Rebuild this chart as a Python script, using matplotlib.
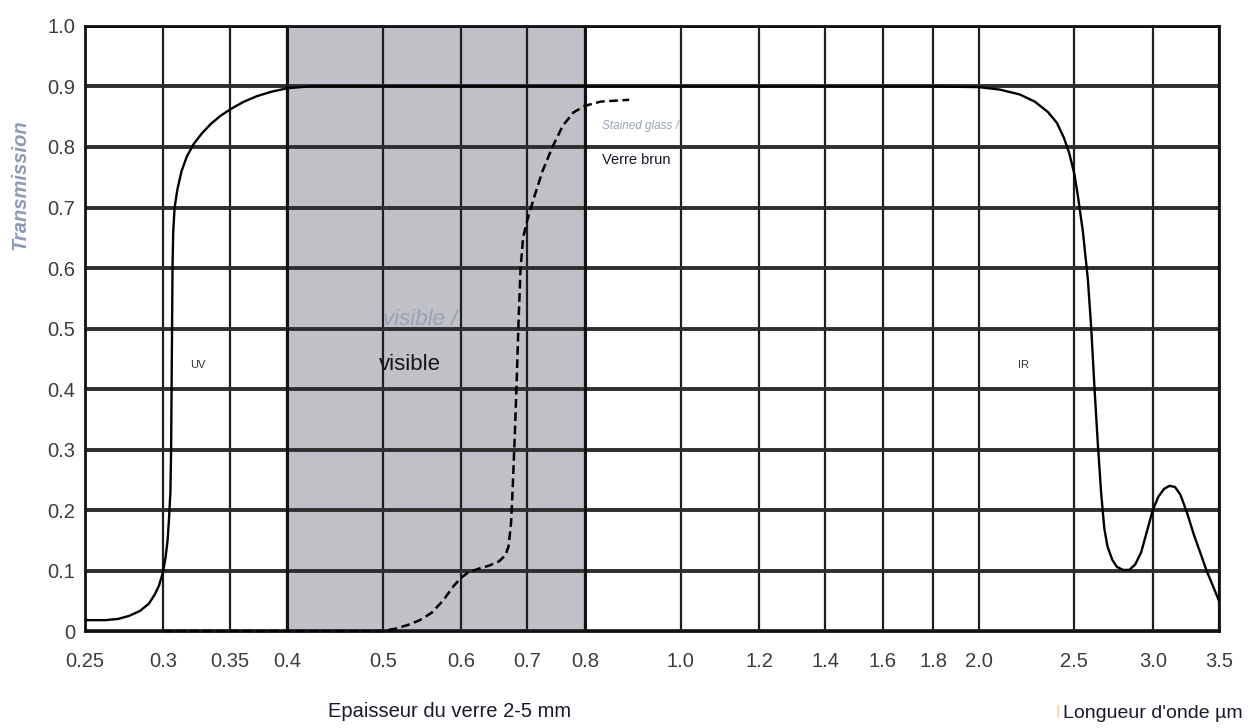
import matplotlib
matplotlib.use("Agg")
import matplotlib.pyplot as plt
from matplotlib.ticker import FixedLocator, FixedFormatter, NullLocator

# Wavelength ticks (µm) and transmission ticks
x_ticks = [0.25, 0.3, 0.35, 0.4, 0.5, 0.6, 0.7, 0.8, 1.0, 1.2, 1.4, 1.6, 1.8, 2.0, 2.5, 3.0, 3.5]
x_tick_labels = ["0.25", "0.3", "0.35", "0.4", "0.5", "0.6", "0.7", "0.8", "1.0", "1.2",
                 "1.4", "1.6", "1.8", "2.0", "2.5", "3.0", "3.5"]
y_ticks = [0, 0.1, 0.2, 0.3, 0.4, 0.5, 0.6, 0.7, 0.8, 0.9, 1.0]
y_tick_labels = ["0", "0.1", "0.2", "0.3", "0.4", "0.5", "0.6", "0.7", "0.8", "0.9", "1.0"]

# Clear glass, 2-5 mm
clear_wl = [0.25, 0.262, 0.27, 0.277, 0.284, 0.29, 0.294, 0.297, 0.2995, 0.3015, 0.303,
            0.304, 0.305, 0.3055, 0.306, 0.3065, 0.307, 0.308, 0.310, 0.313, 0.317, 0.322,
            0.328, 0.335, 0.343, 0.352, 0.362, 0.373, 0.385, 0.40, 0.42, 1.0, 1.8, 2.0,
            2.1, 2.2, 2.28, 2.35, 2.40, 2.44, 2.47, 2.50, 2.52, 2.55, 2.58, 2.60, 2.62, 2.64,
            2.66, 2.68, 2.70, 2.73, 2.76, 2.80, 2.84, 2.88, 2.92, 2.96, 3.00, 3.04, 3.08,
            3.12, 3.16, 3.20, 3.25, 3.30, 3.35, 3.40, 3.45, 3.5]
clear_tr = [0.018, 0.018, 0.020, 0.025, 0.033, 0.045, 0.060, 0.075, 0.095, 0.120, 0.150,
            0.185, 0.230, 0.300, 0.450, 0.600, 0.660, 0.700, 0.730, 0.760, 0.785, 0.805,
            0.822, 0.838, 0.852, 0.864, 0.875, 0.884, 0.891, 0.897, 0.900, 0.900, 0.900, 0.899,
            0.895, 0.887, 0.875, 0.858, 0.840, 0.815, 0.790, 0.755, 0.720, 0.660, 0.580,
            0.500, 0.400, 0.310, 0.230, 0.170, 0.140, 0.118, 0.106, 0.101, 0.101, 0.110,
            0.130, 0.165, 0.200, 0.222, 0.235, 0.240, 0.238, 0.225, 0.195, 0.160, 0.130,
            0.100, 0.075, 0.050]

# Stained (brown) glass
brown_wl = [0.30, 0.5, 0.515, 0.53, 0.545, 0.56, 0.575, 0.59, 0.60, 0.61, 0.625, 0.64,
            0.655, 0.665, 0.67, 0.674, 0.677, 0.68, 0.683, 0.686, 0.689, 0.693, 0.70, 0.712,
            0.725, 0.742, 0.76, 0.779, 0.80, 0.83, 0.887]
brown_tr = [0.0, 0.0, 0.004, 0.010, 0.018, 0.030, 0.050, 0.075, 0.088, 0.097, 0.103, 0.108,
            0.115, 0.125, 0.140, 0.180, 0.250, 0.330, 0.420, 0.520, 0.600, 0.650, 0.680,
            0.720, 0.760, 0.800, 0.835, 0.857, 0.868, 0.875, 0.878]

visible_band = (0.4, 0.8)

FONT = "Liberation Sans"

fig = plt.figure(figsize=(12.55, 7.28), dpi=100)
ax = fig.add_axes([0.0677, 0.1332, 0.9036, 0.8311])

ax.set_xscale("log")
ax.set_xlim(0.25, 3.5)
ax.set_ylim(0, 1.0)

ax.axvspan(*visible_band, color="#c0c1c6", zorder=0.2, lw=0)

ax.set_axisbelow(True)
ax.xaxis.set_major_locator(FixedLocator(x_ticks))
ax.xaxis.set_major_formatter(FixedFormatter(x_tick_labels))
ax.xaxis.set_minor_locator(NullLocator())
ax.yaxis.set_major_locator(FixedLocator(y_ticks))
ax.yaxis.set_major_formatter(FixedFormatter(y_tick_labels))
ax.yaxis.set_minor_locator(NullLocator())
ax.grid(axis="y", color="#2e2e2e", lw=2.8)
ax.grid(axis="x", color="#1e1e1e", lw=1.6)
for xb in visible_band:
    ax.axvline(xb, color="#111111", lw=2.2, zorder=0.6)

ax.tick_params(length=0, labelsize=14.5, labelcolor="#3c3c3c")
ax.tick_params(axis="x", pad=15)
ax.tick_params(axis="y", pad=7)
for lab in ax.get_xticklabels() + ax.get_yticklabels():
    lab.set_family(FONT)

for sp in ax.spines.values():
    sp.set_color("#111111")
    sp.set_linewidth(2.0)

ax.plot(clear_wl, clear_tr, color="black", lw=1.7, zorder=3)
ax.plot(brown_wl, brown_tr, color="black", lw=1.8, ls=(0, (3.5, 1.8)), zorder=4,
        clip_on=False)

# Region labels
ax.text(0.325, 0.44, "UV", fontsize=8, color="#333333", family=FONT, ha="center", va="center")
ax.text(2.22, 0.44, "IR", fontsize=8, color="#333333", family=FONT, ha="center", va="center")
ax.text(0.5, 0.515, "visible /", fontsize=16, color="#9ba1b8", style="italic",
        family=FONT, ha="left", va="center")
ax.text(0.496, 0.44, "visible", fontsize=16, color="#151515", family=FONT,
        ha="left", va="center")
ax.text(0.832, 0.835, "Stained glass /", fontsize=8.5, color="#9ba1b8", style="italic",
        family=FONT, ha="left", va="center")
ax.text(0.832, 0.778, "Verre brun", fontsize=10.5, color="#151525", family=FONT,
        ha="left", va="center")

fig.text(0.016, 0.746, "Transmission", rotation=90, fontsize=14.5, color="#8e9bb8",
         style="italic", weight="bold", family=FONT, ha="center", va="center")
fig.text(0.3585, 0.022, "Epaisseur du verre 2-5 mm", fontsize=14.5, color="#1a1a2e",
         family=FONT, ha="center", va="center")
fig.text(0.847, 0.02, "Longueur d'onde µm", fontsize=14, color="#1a1a2e",
         family=FONT, ha="left", va="center")
fig.text(0.8425, 0.023, "|", fontsize=9, color="#f0b060", ha="center", va="center")

fig.savefig("out.png", dpi=100, facecolor="white")
